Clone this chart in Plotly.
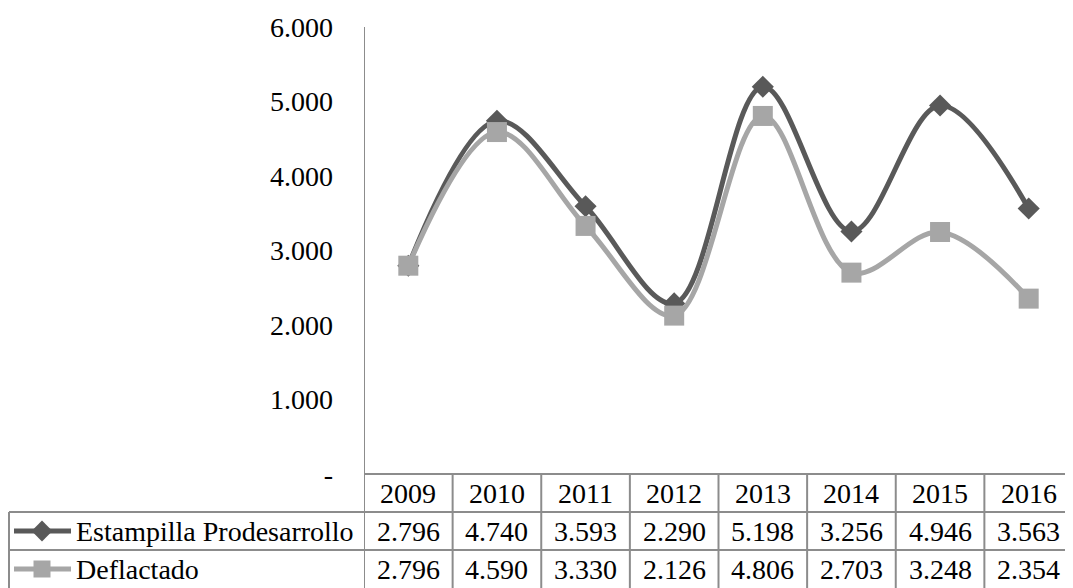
import plotly.graph_objects as go

years = ["2009", "2010", "2011", "2012", "2013", "2014", "2015", "2016"]
estampilla = [2796, 4740, 3593, 2290, 5198, 3256, 4946, 3563]
deflactado = [2796, 4590, 3330, 2126, 4806, 2703, 3248, 2354]
series_names = ["Estampilla Prodesarrollo", "Deflactado"]
y_ticks = [0, 1000, 2000, 3000, 4000, 5000, 6000]

# the page puts the figure 8px in from the top-left corner
OFF = 8
W, H = 1073 - OFF, 588 - OFF
FONT = "Liberation Serif, DejaVu Serif, serif"
FS = 28
DARK = "#595959"
LIGHT = "#A6A6A6"
GRID = "#8C8C8C"

def fmt(v):
    return "-" if v == 0 else f"{v:,}".replace(",", ".")

# layout positions in page pixels
ax_left = 364 - OFF
y_top_px = 27 - OFF
y_bot_px = 474 - OFF
row_px = [474 - OFF, 512 - OFF, 550 - OFF, 588 - OFF]
tbl_left = 1

def py(p):
    return (H - p) / H

fig = go.Figure()
xs = list(range(len(years)))
fig.add_trace(go.Scatter(x=xs, y=estampilla, mode="lines+markers",
                         line=dict(color=DARK, width=5, shape="spline", smoothing=1),
                         marker=dict(symbol="diamond", size=17, color=DARK),
                         name=series_names[0], showlegend=False))
fig.add_trace(go.Scatter(x=xs, y=deflactado, mode="lines+markers",
                         line=dict(color=LIGHT, width=5, shape="spline", smoothing=1),
                         marker=dict(symbol="square", size=20, color=LIGHT),
                         name=series_names[1], showlegend=False))

# legend swatches in the table's first column (pixel overlay axes)
sw_rows = [(row_px[1] + row_px[2]) / 2, (row_px[2] + row_px[3]) / 2]
for (yc, col, sym, sz) in [(sw_rows[0], DARK, "diamond", 16), (sw_rows[1], LIGHT, "square", 17)]:
    fig.add_trace(go.Scatter(x=[6, 63], y=[yc, yc], mode="lines",
                             line=dict(color=col, width=5), xaxis="x2", yaxis="y2",
                             showlegend=False, hoverinfo="skip"))
    fig.add_trace(go.Scatter(x=[34], y=[yc], mode="markers",
                             marker=dict(symbol=sym, size=sz, color=col), xaxis="x2", yaxis="y2",
                             showlegend=False, hoverinfo="skip"))

shapes = []
line_style = dict(color=GRID, width=2)
shapes.append(dict(type="line", xref="x", yref="paper", x0=-0.5, x1=len(years) - 0.5,
                   y0=py(row_px[0]), y1=py(row_px[0]), line=line_style))
for rp in row_px[1:3]:
    shapes.append(dict(type="line", xref="paper", yref="paper", x0=tbl_left / W, x1=1,
                       y0=py(rp), y1=py(rp), line=line_style))
for i in range(len(years)):
    shapes.append(dict(type="line", xref="x", yref="paper", x0=i + 0.5, x1=i + 0.5,
                       y0=py(row_px[0]), y1=py(row_px[3]), line=line_style))
shapes.append(dict(type="line", xref="x", yref="paper", x0=-0.5, x1=-0.5,
                   y0=py(row_px[3]), y1=py(y_top_px), line=line_style))
shapes.append(dict(type="line", xref="paper", yref="paper", x0=tbl_left / W, x1=tbl_left / W,
                   y0=py(row_px[1]), y1=py(row_px[3]), line=line_style))

annotations = []
row_centers = [(row_px[k] + row_px[k + 1]) / 2 for k in range(3)]
tf = dict(family=FONT, size=FS, color="black")
for i, yr in enumerate(years):
    annotations.append(dict(x=i, xref="x", y=py(row_centers[0]), yref="paper", text=yr,
                            showarrow=False, font=tf, xanchor="center", yanchor="middle"))
    annotations.append(dict(x=i, xref="x", y=py(row_centers[1]), yref="paper", text=fmt(estampilla[i]),
                            showarrow=False, font=tf, xanchor="center", yanchor="middle"))
    annotations.append(dict(x=i, xref="x", y=py(row_centers[2]), yref="paper", text=fmt(deflactado[i]),
                            showarrow=False, font=tf, xanchor="center", yanchor="middle"))
for k, nm in enumerate(series_names):
    annotations.append(dict(x=66 / W, xref="paper", y=py(row_centers[k + 1]), yref="paper", text=nm,
                            showarrow=False, font=tf, xanchor="left", yanchor="middle"))

fig.update_layout(
    width=W, height=H, autosize=False,
    margin=dict(l=0, r=0, t=0, b=0, pad=0),
    paper_bgcolor="white", plot_bgcolor="rgba(0,0,0,0)",
    hovermode=False, showlegend=False,
    font=dict(family=FONT),
    xaxis=dict(domain=[ax_left / W, 1], range=[-0.5, len(years) - 0.5],
               showgrid=False, zeroline=False, showticklabels=False, showline=False,
               fixedrange=True),
    yaxis=dict(domain=[py(y_bot_px), py(y_top_px)], range=[0, 6000],
               tickvals=y_ticks, ticktext=[fmt(v) for v in y_ticks],
               showgrid=False, zeroline=False, showline=False,
               ticks="", ticklabelstandoff=30, automargin=False,
               tickfont=tf, fixedrange=True),
    xaxis2=dict(domain=[0, 1], range=[0, W], visible=False, anchor="y2", fixedrange=True),
    yaxis2=dict(domain=[0, 1], range=[H, 0], visible=False, anchor="x2", fixedrange=True),
    shapes=shapes,
    annotations=annotations,
)

fig.write_html("out.html", config={"displayModeBar": False, "responsive": False})
